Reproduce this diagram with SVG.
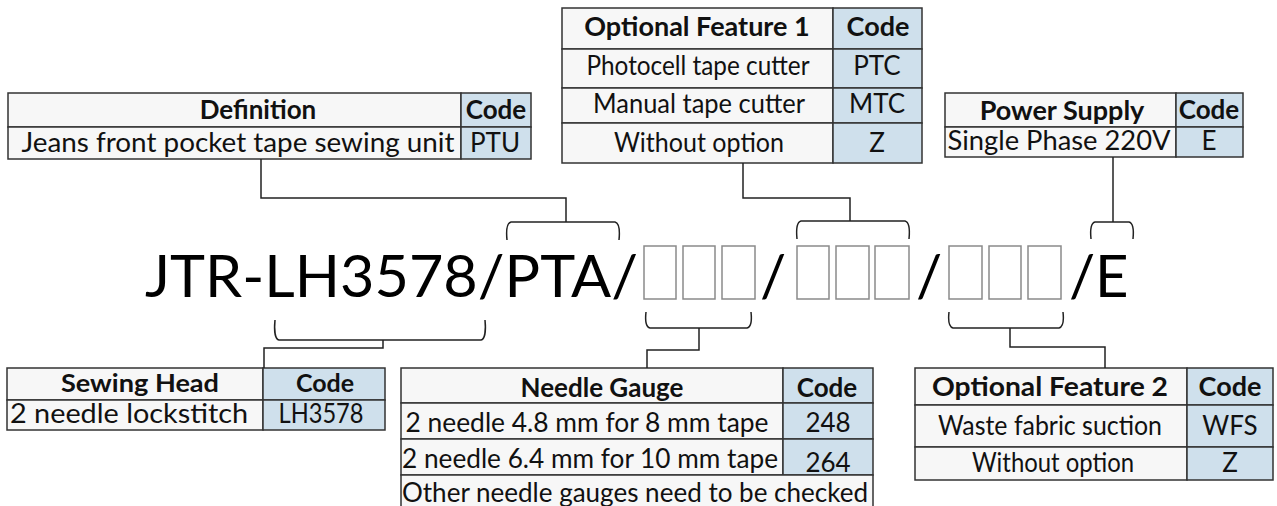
<svg xmlns="http://www.w3.org/2000/svg" width="1277" height="506" viewBox="0 0 1277 506">
<style>
.t{font-family:Lato,"Liberation Sans",sans-serif;font-size:26px;fill:#111}
.h{font-weight:bold}
.m{text-anchor:middle}
.big{font-family:Lato,"Liberation Sans",sans-serif;font-size:58px;fill:#000}
.cell{fill:#f7f7f7;stroke:#333;stroke-width:1.5}
.code{fill:#cfe0ec;stroke:#333;stroke-width:1.5}
.box{fill:#fff;stroke:#8a8a8a;stroke-width:1.5}
.ln{fill:none;stroke:#222;stroke-width:1.5}
</style>
<rect width="1277" height="506" fill="#fff"/>

<g id="definition">
<rect class="cell" x="8" y="93" width="453" height="34"/>
<rect class="code" x="461" y="93" width="70" height="34"/>
<rect class="cell" x="8" y="127" width="453" height="32"/>
<rect class="code" x="461" y="127" width="70" height="32"/>
<text class="t h m" x="258" y="119">Definition</text>
<text class="t h m" x="496" y="119">Code</text>
<text class="t m" x="238" y="152" style="font-size:27px" textLength="433" lengthAdjust="spacingAndGlyphs">Jeans front pocket tape sewing unit</text>
<text class="t m" x="495" y="152">PTU</text>
</g>

<g id="optional-feature-1">
<rect class="cell" x="562" y="8" width="271" height="41"/>
<rect class="code" x="833" y="8" width="89" height="41"/>
<rect class="cell" x="562" y="49" width="271" height="39"/>
<rect class="code" x="833" y="49" width="89" height="39"/>
<rect class="cell" x="562" y="88" width="271" height="35"/>
<rect class="code" x="833" y="88" width="89" height="35"/>
<rect class="cell" x="562" y="123" width="271" height="40"/>
<rect class="code" x="833" y="123" width="89" height="40"/>
<text class="t h m" x="697" y="36" style="font-size:27px">Optional Feature 1</text>
<text class="t h m" x="878" y="36" style="font-size:27px">Code</text>
<text class="t m" x="698" y="75" textLength="223" lengthAdjust="spacingAndGlyphs">Photocell tape cutter</text>
<text class="t m" x="877" y="75">PTC</text>
<text class="t m" x="699" y="113" textLength="212" lengthAdjust="spacingAndGlyphs">Manual tape cutter</text>
<text class="t m" x="877" y="113">MTC</text>
<text class="t m" x="699" y="152" textLength="170" lengthAdjust="spacingAndGlyphs">Without option</text>
<text class="t m" x="877" y="152">Z</text>
</g>

<g id="power-supply">
<rect class="cell" x="945" y="93" width="231" height="34"/>
<rect class="code" x="1176" y="93" width="67" height="34"/>
<rect class="cell" x="945" y="127" width="231" height="30"/>
<rect class="code" x="1176" y="127" width="67" height="30"/>
<text class="t h m" x="1062" y="120" style="font-size:27px">Power Supply</text>
<text class="t h m" x="1209" y="119">Code</text>
<text class="t m" x="1059" y="150" textLength="223" lengthAdjust="spacingAndGlyphs">Single Phase 220V</text>
<text class="t m" x="1209" y="150">E</text>
</g>

<g id="sewing-head">
<rect class="cell" x="7" y="368" width="256" height="32"/>
<rect class="code" x="263" y="368" width="122" height="32"/>
<rect class="cell" x="7" y="400" width="256" height="30"/>
<rect class="code" x="263" y="400" width="122" height="30"/>
<text class="t h m" x="140" y="392" style="font-size:25px" textLength="158" lengthAdjust="spacingAndGlyphs">Sewing Head</text>
<text class="t h m" x="325" y="392" style="font-size:25px">Code</text>
<text class="t m" x="129" y="423" textLength="238" lengthAdjust="spacingAndGlyphs">2 needle lockstitch</text>
<text class="t m" x="321" y="423" textLength="85" lengthAdjust="spacingAndGlyphs">LH3578</text>
</g>

<g id="needle-gauge">
<rect class="cell" x="401" y="368" width="382" height="35"/>
<rect class="code" x="783" y="368" width="90" height="35"/>
<rect class="cell" x="401" y="403" width="382" height="36"/>
<rect class="code" x="783" y="403" width="90" height="36"/>
<rect class="cell" x="401" y="439" width="382" height="36"/>
<rect class="code" x="783" y="439" width="90" height="36"/>
<rect class="cell" x="401" y="475" width="472" height="40"/>
<text class="t h m" x="602" y="397">Needle Gauge</text>
<text class="t h m" x="827" y="397">Code</text>
<text class="t m" x="587" y="432" textLength="363" lengthAdjust="spacingAndGlyphs">2 needle 4.8 mm for 8 mm tape</text>
<text class="t m" x="828" y="432">248</text>
<text class="t m" x="590" y="468" textLength="376" lengthAdjust="spacingAndGlyphs">2 needle 6.4 mm for 10 mm tape</text>
<text class="t m" x="828" y="472">264</text>
<text class="t m" x="635" y="502" textLength="466" lengthAdjust="spacingAndGlyphs">Other needle gauges need to be checked</text>
</g>

<g id="optional-feature-2">
<rect class="cell" x="915" y="368" width="272" height="37"/>
<rect class="code" x="1187" y="368" width="86" height="37"/>
<rect class="cell" x="915" y="405" width="272" height="42"/>
<rect class="code" x="1187" y="405" width="86" height="42"/>
<rect class="cell" x="915" y="447" width="272" height="33"/>
<rect class="code" x="1187" y="447" width="86" height="33"/>
<text class="t h m" x="1050" y="396" style="font-size:27px" textLength="236" lengthAdjust="spacingAndGlyphs">Optional Feature 2</text>
<text class="t h m" x="1230" y="396" style="font-size:27px">Code</text>
<text class="t m" x="1050" y="435" textLength="224" lengthAdjust="spacingAndGlyphs">Waste fabric suction</text>
<text class="t m" x="1230" y="435">WFS</text>
<text class="t m" x="1053" y="472" textLength="162" lengthAdjust="spacingAndGlyphs">Without option</text>
<text class="t m" x="1230" y="472">Z</text>
</g>

<g id="model-code">
<text class="big" x="145" y="297" textLength="493" lengthAdjust="spacingAndGlyphs">JTR-LH3578/PTA/</text>
<rect class="box" x="644" y="246" width="32" height="53"/>
<rect class="box" x="683" y="246" width="32" height="53"/>
<rect class="box" x="722" y="246" width="33" height="53"/>
<text class="big m" x="773" y="297">/</text>
<rect class="box" x="797" y="246" width="32" height="53"/>
<rect class="box" x="836" y="246" width="33" height="53"/>
<rect class="box" x="875" y="246" width="34" height="53"/>
<text class="big m" x="929" y="297">/</text>
<rect class="box" x="949" y="246" width="33" height="53"/>
<rect class="box" x="989" y="246" width="32" height="53"/>
<rect class="box" x="1028" y="246" width="33" height="53"/>
<text class="big m" x="1082" y="297">/</text>
<text class="big" x="1095" y="297">E</text>
</g>

<g id="connectors">
<path class="ln" d="M261,159 V198 H566 V222"/>
<path class="ln" d="M507,240 C506,230 507,223 511,222 H615 C619,223 620,230 619,240"/>
<path class="ln" d="M743,163 V198 H850 V221"/>
<path class="ln" d="M797,239 C796,229 797,222 801,221 H905 C909,222 910,229 909,239"/>
<path class="ln" d="M1113,157 V222"/>
<path class="ln" d="M1091,239 C1090,229 1091,223 1095,222 H1129 C1133,223 1134,229 1133,239"/>
<path class="ln" d="M275,320 C274,330 275,339 279,340 H481 C485,339 486,330 485,320"/>
<path class="ln" d="M383,340 V348 H264 V368"/>
<path class="ln" d="M646,312 C645,321 646,327 650,328 H747 C751,327 752,321 751,312"/>
<path class="ln" d="M699,328 V350 H647 V368"/>
<path class="ln" d="M949,312 C948,321 949,327 953,328 H1059 C1063,327 1064,321 1063,312"/>
<path class="ln" d="M1010,328 V347 H1105 V368"/>
</g>
</svg>
